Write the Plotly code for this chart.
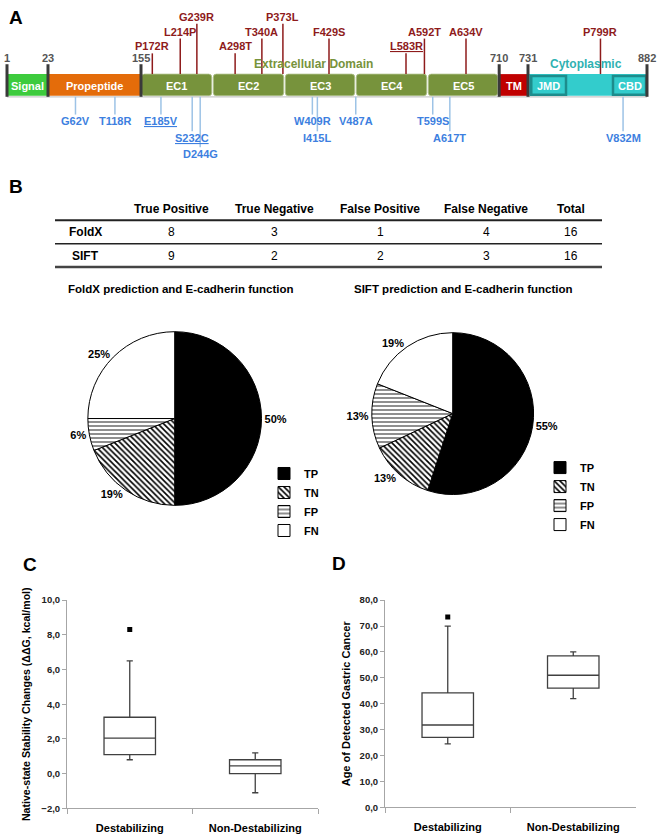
import numpy as np
import plotly.graph_objects as go

W, H = 661, 840
FONT = "Liberation Sans, Arial, sans-serif"

# ---------------- DATA ----------------
# Panel A: E-cadherin protein domains (residue numbers)
domain_names = ["Signal", "Propeptide", "EC1", "EC2", "EC3", "EC4", "EC5", "TM", "Cytoplasmic"]
domain_start = [1, 23, 155, 263, 376, 487, 594, 710, 731]
domain_end = [23, 155, 262, 375, 486, 593, 709, 731, 882]
subdomain_names = ["JMD", "CBD"]
subdomain_start = [734, 811]
subdomain_end = [766, 880]
boundary_residues = [1, 23, 155, 710, 731, 882]

above_mutations = ["P172R", "L214P", "G239R", "A298T", "T340A", "P373L",
                   "F429S", "L583R", "A592T", "A634V", "P799R"]
above_residues = [172, 214, 239, 298, 340, 373, 429, 583, 592, 634, 799]
below_mutations = ["G62V", "T118R", "E185V", "S232C", "D244G", "W409R",
                   "I415L", "V487A", "T599S", "A617T", "V832M"]
below_residues = [62, 118, 185, 232, 244, 409, 415, 487, 599, 617, 832]
underlined_mutations = ["E185V", "S232C", "L583R"]

# Panel B: table + pies
table_columns = ["True Positive", "True Negative", "False Positive", "False Negative", "Total"]
table_rows = ["FoldX", "SIFT"]
foldx_counts = [8, 3, 1, 4, 16]
sift_counts = [9, 2, 2, 3, 16]
pie_labels = ["TP", "TN", "FP", "FN"]
foldx_percent = [50, 19, 6, 25]
sift_percent = [55, 13, 13, 19]

# Panel C / D: box statistics
box_categories = ["Destabilizing", "Non-Destabilizing"]
ddg_lower = [0.8, -1.1]
ddg_q1 = [1.1, 0.0]
ddg_median = [2.05, 0.45]
ddg_q3 = [3.25, 0.8]
ddg_upper = [6.5, 1.2]
ddg_outlier_cat = ["Destabilizing"]
ddg_outlier = [8.3]

age_lower = [24.5, 42.0]
age_q1 = [27.0, 46.0]
age_median = [31.8, 51.0]
age_q3 = [44.2, 58.5]
age_upper = [70.0, 60.0]
age_outlier_cat = ["Destabilizing"]
age_outlier = [73.5]

# ---------------- LAYOUT HELPERS ----------------
# schematic (non-linear) residue -> pixel mapping of the drawn protein bar
MAP_RES = [1, 23, 155, 262.5, 375.5, 429, 486.5, 583, 593.5, 634, 709.5, 731, 766, 811, 882]
MAP_PX = [7, 48, 141, 212.5, 284.5, 329, 355.5, 406, 427.5, 466, 498.5, 528, 566, 613, 647]


def rx(r):
    return float(np.interp(r, MAP_RES, MAP_PX))


def fx(X):
    return X / W


def fy(Y):
    return 1 - Y / H


BAR_TOP, BAR_BOT = 69, 91
ABOVE_ROW_Y = [11, 26, 41]
above_rows = [2, 1, 0, 2, 1, 0, 1, 2, 1, 1, 1]
BELOW_ROW_Y = [117, 134, 150]
below_rows = [0, 0, 0, 1, 2, 0, 1, 0, 0, 1, 1]

domain_colors = {"Signal": "#3DCB3D", "Propeptide": "#E46C0A", "EC": "#77933C",
                 "TM": "#C00000", "Cytoplasmic": "#33CCCC"}

RED = "#8E1B1B"
BLUE = "#3D7FE0"
BLUE_LINE = "#9DC3E6"


def rounded(x0, x1, y0, y1, r):
    return (f"M{x0+r},{y0} L{x1-r},{y0} Q{x1},{y0} {x1},{y0+r} L{x1},{y1-r} "
            f"Q{x1},{y1} {x1-r},{y1} L{x0+r},{y1} Q{x0},{y1} {x0},{y1-r} "
            f"L{x0},{y0+r} Q{x0},{y0} {x0+r},{y0} Z")


shapes = []
annots = []


def txt(x, y, s, size=11, color="black", bold=True, **kw):
    d = dict(x=x, y=y, xref="x3", yref="y3", text=s, showarrow=False,
             font=dict(family=FONT, size=size, color=color,
                       weight="bold" if bold else "normal"))
    d.update(kw)
    annots.append(d)


def line(x0, y0, x1, y1, color, width):
    shapes.append(dict(type="line", xref="x3", yref="y3", x0=x0, y0=y0, x1=x1, y1=y1,
                       line=dict(color=color, width=width), layer="above"))


# Panel labels
for lab, (lx, ly) in zip(["A", "B", "C", "D"], [(16, 12), (16, 183), (30, 566), (339, 565)]):
    txt(lx, ly, lab, size=19)

# ---------- Panel A ----------
for name, s, e in zip(domain_names, domain_start, domain_end):
    is_ec = name.startswith("EC")
    x0, x1 = rx(s - 0.5 if is_ec else s), rx(e + 0.5 if is_ec else e)
    if is_ec:
        shapes.append(dict(type="path", xref="x3", yref="y3",
                           path=rounded(x0 + 0.8, x1 - 0.8, BAR_TOP, BAR_BOT, 3),
                           fillcolor=domain_colors["EC"], line=dict(color="#AFC08A", width=0.8),
                           layer="below"))
    else:
        shapes.append(dict(type="rect", xref="x3", yref="y3", x0=x0, x1=x1,
                           y0=BAR_TOP, y1=BAR_BOT, fillcolor=domain_colors[name],
                           line=dict(width=0), layer="below"))
    if name != "Cytoplasmic":
        txt((x0 + x1) / 2, (BAR_TOP + BAR_BOT) / 2 + 1, name, size=11, color="white")

for name, s, e in zip(subdomain_names, subdomain_start, subdomain_end):
    x0, x1 = rx(s), rx(e)
    shapes.append(dict(type="rect", xref="x3", yref="y3", x0=x0, x1=x1,
                       y0=BAR_TOP + 2, y1=BAR_BOT - 1, fillcolor=domain_colors["Cytoplasmic"],
                       line=dict(color="#1D8C8C", width=2.5), layer="below"))
    txt((x0 + x1) / 2, (BAR_TOP + BAR_BOT) / 2 + 1, name, size=11, color="white")

# light shadow under the bar
line(rx(1), BAR_BOT + 1, rx(882), BAR_BOT + 1, "#C8C8C8", 1.2)

for b in boundary_residues:
    line(rx(b), 59, rx(b), BAR_BOT + 1, "#3A3A3A", 3)
    txt(rx(b), 53, str(b), size=11, color="#555555")

txt(313, 59, "Extracellular Domain", size=12, color="#77933C")
txt(586, 59, "Cytoplasmic", size=12, color="#2FB2B2")

for m, r, row in zip(above_mutations, above_residues, above_rows):
    x = rx(r)
    ly = ABOVE_ROW_Y[row]
    line(x, BAR_TOP, x, ly + 7, RED, 1.5)
    label = f'<span style="text-decoration:underline">{m}</span>' if m in underlined_mutations else m
    txt(x, ly, label, size=11, color=RED)

for m, r, row in zip(below_mutations, below_residues, below_rows):
    x = rx(r)
    ly = BELOW_ROW_Y[row]
    line(x, BAR_BOT + 1, x, ly - 7, BLUE_LINE, 1.5)
    label = f'<span style="text-decoration:underline">{m}</span>' if m in underlined_mutations else m
    txt(x, ly, label, size=11, color=BLUE)

# ---------- Panel B: table ----------
col_x = [171, 274, 380, 486, 571]
row_label_x = 85
header_y = 206
row_y = [229, 253]
for c, cx in zip(table_columns, col_x):
    txt(cx, header_y, c, size=12)
for rname, ry, vals in zip(table_rows, row_y, [foldx_counts, sift_counts]):
    txt(row_label_x, ry, rname, size=12)
    for cx, v in zip(col_x, vals):
        txt(cx, ry, str(v), size=12, bold=False)
line(55, 217, 602, 217, "#222222", 2)
line(55, 241, 602, 241, "#222222", 1.5)
line(55, 264.5, 602, 264.5, "#444444", 2.5)

txt(181, 287, "FoldX prediction and E-cadherin function", size=11.5)
txt(463, 287, "SIFT prediction and E-cadherin function", size=11.5)

# ---------------- FIGURE ----------------
fig = go.Figure()

fig.add_trace(go.Scatter(x=[None], y=[None], xaxis="x3", yaxis="y3",
                         showlegend=False, hoverinfo="skip"))

pie_marker = dict(colors=["black", "white", "white", "white"],
                  line=dict(color="black", width=1),
                  pattern=dict(shape=["", "\\", "-", ""], fgcolor="black",
                               size=[4, 4, 4, 4], solidity=[0.4, 0.4, 0.22, 0.4]))


def px_domain(cx, cy, r):
    return dict(x=[fx(cx - r), fx(cx + r)], y=[fy(cy + r), fy(cy - r)])


for vals, dom, leg, grp in [(foldx_percent, px_domain(174.7, 418, 88), "legend", "foldx"),
                            (sift_percent, px_domain(452.7, 413, 82), "legend2", "sift")]:
    fig.add_trace(go.Pie(labels=pie_labels, values=vals, sort=False,
                         direction="clockwise", rotation=0, marker=pie_marker,
                         texttemplate="%{percent:.0%}", textposition="outside",
                         textfont=dict(family=FONT, size=11, color="black", weight="bold"),
                         domain=dom, legend=leg, legendgroup=grp, hoverinfo="skip"))

box_style = dict(fillcolor="white", line=dict(color="#404040", width=1.3),
                 width=0.41, whiskerwidth=0.12, boxpoints=False,
                 showlegend=False, hoverinfo="skip")
fig.add_trace(go.Box(x=box_categories, q1=ddg_q1, median=ddg_median, q3=ddg_q3,
                     lowerfence=ddg_lower, upperfence=ddg_upper,
                     xaxis="x", yaxis="y", **box_style))
fig.add_trace(go.Scatter(x=ddg_outlier_cat, y=ddg_outlier, mode="markers",
                         marker=dict(symbol="square", size=5, color="black"),
                         xaxis="x", yaxis="y", showlegend=False, hoverinfo="skip"))
fig.add_trace(go.Box(x=box_categories, q1=age_q1, median=age_median, q3=age_q3,
                     lowerfence=age_lower, upperfence=age_upper,
                     xaxis="x2", yaxis="y2", **box_style))
fig.add_trace(go.Scatter(x=age_outlier_cat, y=age_outlier, mode="markers",
                         marker=dict(symbol="square", size=5, color="black"),
                         xaxis="x2", yaxis="y2", showlegend=False, hoverinfo="skip"))

AX = "#A6A6A6"
xcommon = dict(type="category", range=[-0.5, 1.5], showline=True, linecolor=AX,
               linewidth=1, ticks="outside", tickson="boundaries", ticklen=5,
               tickcolor=AX, showgrid=False, zeroline=False, fixedrange=True,
               ticklabelstandoff=9,
               tickfont=dict(family=FONT, size=11, color="black", weight="bold"))
ycommon = dict(showline=True, linecolor=AX, linewidth=1, ticks="outside", ticklen=4,
               tickcolor=AX, showgrid=False, zeroline=False, tickformat=".1f",
               fixedrange=True,
               tickfont=dict(family=FONT, size=9.5, color="#222222", weight="bold"))

legend_common = dict(xanchor="left", yanchor="top", bgcolor="rgba(0,0,0,0)",
                     font=dict(family=FONT, size=11, color="black", weight="bold"),
                     itemclick=False, itemdoubleclick=False, tracegroupgap=0)

fig.update_layout(
    width=W, height=H, margin=dict(l=0, r=0, t=0, b=0),
    paper_bgcolor="white", plot_bgcolor="rgba(0,0,0,0)",
    separators=",.",
    font=dict(family=FONT),
    showlegend=True,
    xaxis=dict(domain=[fx(67), fx(318)], anchor="y", **xcommon),
    yaxis=dict(domain=[fy(813), fy(602)], anchor="x", range=[-2, 10], dtick=2,
               title=dict(text="Native-state Stability Changes (ΔΔG, kcal/mol)",
                          font=dict(family=FONT, size=10.6, color="black", weight="bold"),
                          standoff=8),
               **ycommon),
    xaxis2=dict(domain=[fx(385), fx(636)], anchor="y2", **xcommon),
    yaxis2=dict(domain=[fy(812), fy(602)], anchor="x2", range=[0, 80], dtick=10,
                title=dict(text="Age of Detected Gastric Cancer",
                           font=dict(family=FONT, size=11, color="black", weight="bold"),
                           standoff=6),
                **ycommon),
    xaxis3=dict(domain=[0, 1], range=[0, W], visible=False, anchor="y3", fixedrange=True),
    yaxis3=dict(domain=[0, 1], range=[H, 0], visible=False, anchor="x3", fixedrange=True),
    legend=dict(x=fx(264), y=fy(459), **legend_common),
    legend2=dict(x=fx(540), y=fy(453), **legend_common),
    shapes=shapes,
    annotations=annots,
)

fig.write_html("out.html", config={"displayModeBar": False},
               post_script="document.body.style.margin='0';"
                           "document.documentElement.style.overflow='hidden';")
